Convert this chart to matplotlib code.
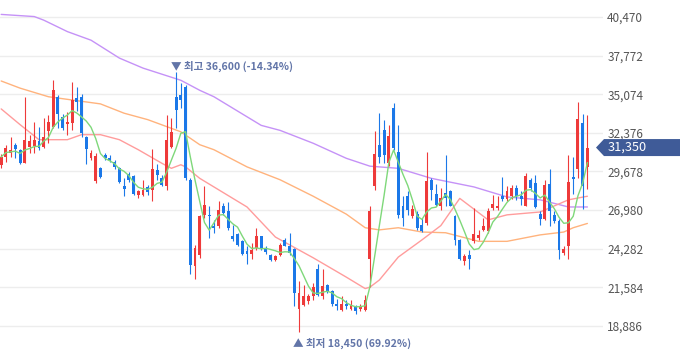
import numpy as np
import pandas as pd
import matplotlib
matplotlib.use("Agg")
import matplotlib.pyplot as plt
from matplotlib.patches import Polygon
from matplotlib.transforms import blended_transform_factory

plt.rcParams['font.family'] = ['Noto Sans CJK KR', 'DejaVu Sans']

# 일봉 데이터
opens = [30100, 30700, 31000, 31500, 31200, 30300, 31400, 31450, 31800, 31400,
         32500, 32800, 34850, 33450, 33000, 33050, 34800, 34850, 32100, 30650,
         29000, 29950, 30800, 30650, 30350, 29950, 28650, 29500, 29350, 28050,
         28050, 28600, 28400, 29800, 29200, 28650, 31400, 34850, 35050, 35600,
         29100, 23050, 23850, 26650, 26650, 25900, 25850, 27300, 26900, 25150,
         25300, 24850, 24100, 23950, 24300, 25150, 24300, 23850, 23500, 23850,
         24900, 24450, 24250, 20050, 20350, 20600, 20950, 22850, 20950, 21750,
         21300, 20400, 20000, 20400, 20100, 20300, 20100, 20000, 23600, 28650,
         31550, 32600, 30250, 34100, 31050, 27250, 28000, 26600, 26700, 25950,
         26050, 29100, 28100, 27250, 28150, 28300, 26550, 24900, 23400, 23850,
         24800, 25000, 25600, 25500, 27100, 27100, 27950, 27750, 27950, 28500,
         27950, 27250, 29050, 28900, 26700, 26350, 28800, 26650, 26250, 24000,
         24450, 29300, 29850, 33050, 30000]
highs = [30900, 31550, 32100, 31700, 31250, 34850, 32250, 33150, 32800, 33400,
         33650, 36100, 35000, 33700, 33850, 35950, 35550, 35100, 32150, 31200,
         30950, 30000, 31000, 30850, 30500, 30000, 29200, 29650, 29450, 28400,
         29100, 28750, 31250, 30200, 29450, 33650, 33400, 36600, 35850, 35700,
         29200, 24550, 26650, 28650, 27250, 26300, 27600, 27500, 27550, 25950,
         25400, 24900, 24450, 24650, 25700, 25200, 24450, 23950, 23850, 24700,
         25050, 25400, 24300, 22000, 21750, 21150, 21900, 23200, 22850, 21850,
         21400, 20800, 20950, 20700, 20700, 20350, 20450, 21050, 27250, 32500,
         33750, 33300, 32950, 34450, 32950, 27950, 28300, 27350, 26900, 26450,
         31050, 29200, 28800, 28500, 30850, 28400, 26650, 24950, 23950, 24200,
         27100, 25600, 26400, 27100, 28050, 27950, 29300, 28650, 28750, 28750,
         28300, 29600, 29250, 29450, 26900, 29050, 29850, 26900, 26350, 24450,
         30850, 30700, 34550, 33700, 33650]
lows = [29950, 30350, 30700, 30600, 30200, 30250, 31000, 31000, 31200, 31350,
        31650, 32700, 32750, 32600, 32250, 32600, 33900, 32100, 30200, 30500,
        28850, 29200, 30500, 30350, 29850, 28850, 28000, 28950, 28050, 27850,
        27950, 28050, 27600, 29100, 28650, 28400, 31300, 32700, 34100, 29100,
        22500, 22200, 23650, 26400, 25000, 25350, 25700, 26650, 25600, 24800,
        24450, 23850, 23250, 23600, 24200, 24200, 23900, 23450, 23450, 23750,
        24450, 23850, 20250, 18450, 20250, 20450, 20700, 20950, 20800, 21200,
        20300, 20000, 19900, 20050, 20000, 19700, 19950, 19950, 21600, 28400,
        30250, 30250, 30050, 31200, 26400, 25850, 26650, 26450, 25600, 25450,
        25950, 27700, 27250, 27000, 27250, 27250, 24550, 23500, 23150, 22900,
        24650, 24900, 25500, 25350, 27000, 27000, 27600, 27650, 27750, 27700,
        27350, 27250, 28300, 27100, 25950, 26300, 25900, 26050, 23600, 23850,
        23600, 28100, 29200, 27050, 28450]
closes = [30700, 31300, 31150, 31250, 30300, 31900, 31800, 31850, 31350, 32100,
          33150, 35400, 33700, 32700, 33150, 34700, 34550, 32350, 31250, 31000,
          30750, 29300, 30600, 30450, 30000, 28950, 28450, 29100, 28100, 28300,
          28400, 28250, 29850, 29450, 28700, 31900, 32450, 34000, 34700, 29250,
          23150, 24300, 26550, 27350, 26550, 25700, 27000, 26750, 25700, 24950,
          24550, 23900, 23900, 24200, 25150, 24250, 24050, 23500, 23750, 24550,
          24500, 24000, 21200, 21200, 21000, 20950, 21600, 21050, 21650, 21300,
          20400, 20250, 20400, 20250, 20350, 19900, 20300, 20700, 26950, 30900,
          30700, 30850, 32150, 31300, 26650, 26400, 27000, 27050, 25700, 25500,
          29000, 28400, 27350, 27800, 27800, 27300, 24900, 23600, 23750, 23550,
          25300, 25250, 25900, 26900, 27400, 27250, 27750, 28300, 28500, 27950,
          27750, 29350, 28500, 27200, 26350, 28750, 26900, 26200, 24200, 24250,
          28950, 29150, 33350, 28650, 31350]

# 이동평균선 (차트에서 읽은 지점)
ma20_day = [0, 4, 8, 14, 17, 21, 25, 29, 34, 36, 38, 39, 42, 45, 52, 58, 66, 73,
            77, 78, 80, 84, 89, 93, 97, 101, 103, 107, 114, 120, 124]
ma20_val = [34050, 32950, 31900, 31900, 32250, 32250, 31900, 31200, 30250, 29900,
            30150, 30000, 29200, 28600, 27200, 25100, 23650, 22300, 21500, 21600,
            22100, 23700, 24900, 25900, 27800, 26800, 26300, 26650, 26850, 27700,
            27950]
ma60_day = [0, 4, 10, 21, 26, 31, 38, 42, 45, 52, 59, 66, 73, 77, 80, 84, 89, 94,
            101, 107, 114, 119, 121, 124]
ma60_val = [36000, 35500, 34900, 34400, 33750, 33300, 32450, 31550, 31200, 30000,
            29100, 27950, 26700, 25750, 25600, 25750, 25450, 25400, 24800, 24800,
            25250, 25450, 25750, 26050]
ma120_day = [0, 7, 9, 14, 19, 25, 30, 38, 42, 45, 52, 55, 59, 66, 73, 78, 84, 91,
             100, 107, 114, 120, 124]
ma120_val = [40650, 40500, 40250, 39450, 38850, 37600, 36900, 36050, 35350, 34900,
             33500, 32900, 32550, 31650, 30600, 30050, 29900, 29200, 28600, 27900,
             27700, 27200, 27200]

y_ticks = [18886, 21584, 24282, 26980, 29678, 32376, 35074, 37772, 40470]

high_label = "▼ 최고 36,600 (-14.34%)"
low_label = "▲ 최저 18,450 (69.92%)"

up_color = "#ee3a3a"
down_color = "#1b78e8"

fig = plt.figure(figsize=(6.8, 3.58), dpi=100)
ax = fig.add_axes([0, 0, 603 / 680, 1])

days = np.arange(len(closes))
o = np.array(opens)
c = np.array(closes)
colors = np.where(c >= o, up_color, down_color)

# 이동평균선
line_kw = dict(lw=1.0, zorder=2, solid_joinstyle="round", solid_capstyle="round")
ax.plot(ma120_day, ma120_val, color="#c592f7", **line_kw)
ax.plot(ma60_day, ma60_val, color="#ffb37d", **line_kw)
ax.plot(ma20_day, ma20_val, color="#ff9c9c", **line_kw)

# 캔들
ax.vlines(days, lows, highs, colors=colors, lw=0.8, zorder=3)
body = np.where(np.abs(c - o) < 60, 60, c - o)
ax.bar(days, body, bottom=o, width=0.62, color=colors, lw=0, zorder=4)

ma5 = pd.Series(closes).rolling(5, min_periods=1).mean()
ax.plot(days, ma5, color="#7fd87a", lw=1.0, zorder=5, solid_joinstyle="round")

# 최고/최저 표시
hi_idx = int(np.argmax(highs))
lo_idx = int(np.argmin(lows))
ax.annotate(high_label, xy=(hi_idx, highs[hi_idx]), xytext=(-4, 4.5),
            textcoords="offset points", ha="left", va="center",
            fontsize=7.6, color="#6275a8", fontweight="bold", zorder=6)
ax.annotate(low_label, xy=(lo_idx, lows[lo_idx]), xytext=(-4, -8),
            textcoords="offset points", ha="left", va="center",
            fontsize=7.6, color="#6275a8", fontweight="bold", zorder=6)

ax.set_xlim(-0.25, 127.3)
ax.set_ylim(16651, 41657)
ax.set_yticks(y_ticks)
ax.set_yticklabels([f"{v:,}" for v in y_ticks])
ax.yaxis.tick_right()
ax.tick_params(axis="y", length=0, pad=3, labelsize=8.5, labelcolor="#555555")
ax.set_xticks([])
ax.grid(axis="y", color="#ededed", lw=1.0, zorder=0)
for s in ax.spines.values():
    s.set_visible(False)

# 현재가 태그
last = closes[-1]
px = (41657 - 16651) / 358
tr = blended_transform_factory(fig.transFigure, ax.transData)
tag = Polygon([(596 / 680, last), (604 / 680, last + 8.5 * px),
               (1.0, last + 8.5 * px), (1.0, last - 8.5 * px),
               (604 / 680, last - 8.5 * px)],
              closed=True, transform=tr, facecolor="#3f5b98", edgecolor="none",
              clip_on=False, zorder=7)
ax.add_patch(tag)
ax.text(608 / 680, last, f"{last:,}", transform=tr, color="white",
        fontsize=9.2, va="center", ha="left", zorder=8, clip_on=False)

fig.savefig("out.png", dpi=100)
